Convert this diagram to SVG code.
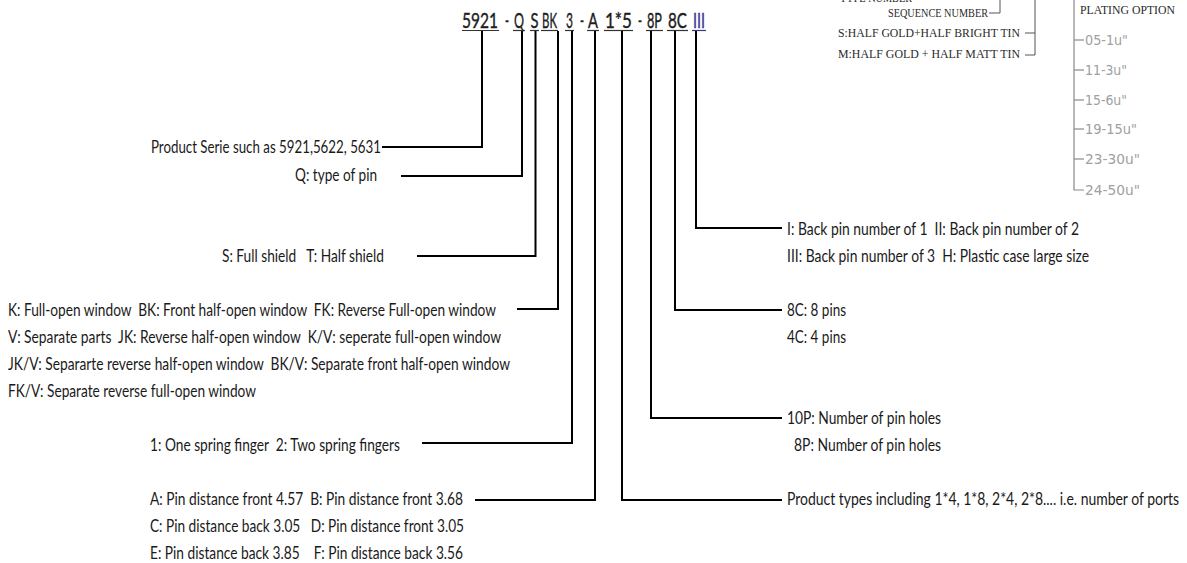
<svg xmlns="http://www.w3.org/2000/svg" width="1187" height="563" viewBox="0 0 1187 563">
<style>
.code{font-family:Lato,"Open Sans",sans-serif;font-size:16px;fill:#1e1e1e;stroke:#1e1e1e;stroke-width:0.3}
.lbl{font-family:Lato,"Open Sans",sans-serif;font-size:17px;fill:#1a1a1a}
.cad{font-family:"Liberation Serif","DejaVu Serif",serif;font-size:11.5px;fill:#2a2a2a}
.pl{font-family:"DejaVu Sans",sans-serif;font-size:13.5px;fill:#a0a0a0}
.ul{stroke:#333;stroke-width:1.2}
.con{fill:none;stroke:#000;stroke-width:2}
.cl{fill:none;stroke:#555;stroke-width:1}
.pll{fill:none;stroke:#8a8a8a;stroke-width:1.2}
</style>
<rect width="1187" height="563" fill="#fff"/>
<g id="code">
<g transform="translate(0,28) scale(1,1.35)">
<text class="code" x="462" y="0" textLength="36" lengthAdjust="spacingAndGlyphs">5921</text>
<text class="code" x="505" y="0" textLength="4" lengthAdjust="spacingAndGlyphs">-</text>
<text class="code" x="514" y="0" textLength="10" lengthAdjust="spacingAndGlyphs">Q</text>
<text class="code" x="530.5" y="0" textLength="8" lengthAdjust="spacingAndGlyphs">S</text>
<text class="code" x="542" y="0" textLength="15" lengthAdjust="spacingAndGlyphs">BK</text>
<text class="code" x="566" y="0" textLength="7" lengthAdjust="spacingAndGlyphs">3</text>
<text class="code" x="580" y="0" textLength="4" lengthAdjust="spacingAndGlyphs">-</text>
<text class="code" x="588" y="0" textLength="10" lengthAdjust="spacingAndGlyphs">A</text>
<text class="code" x="605" y="0" textLength="27" lengthAdjust="spacingAndGlyphs">1*5</text>
<text class="code" x="638" y="0" textLength="4" lengthAdjust="spacingAndGlyphs">-</text>
<text class="code" x="647" y="0" textLength="15" lengthAdjust="spacingAndGlyphs">8P</text>
<text class="code" x="668" y="0" textLength="19" lengthAdjust="spacingAndGlyphs">8C</text>
<text class="code" x="693" y="0" textLength="12" lengthAdjust="spacingAndGlyphs" style="fill:#35358a;stroke:#35358a">III</text>
</g>
<g class="ul">
<line x1="462" y1="30.5" x2="499" y2="30.5"/>
<line x1="513" y1="30.5" x2="525" y2="30.5"/>
<line x1="530" y1="30.5" x2="539" y2="30.5"/>
<line x1="541" y1="30.5" x2="558" y2="30.5"/>
<line x1="565" y1="30.5" x2="574" y2="30.5"/>
<line x1="587" y1="30.5" x2="599" y2="30.5"/>
<line x1="604" y1="30.5" x2="633" y2="30.5"/>
<line x1="646" y1="30.5" x2="663" y2="30.5"/>
<line x1="667" y1="30.5" x2="688" y2="30.5"/>
<line x1="692" y1="30.5" x2="706" y2="30.5" style="stroke:#35358a"/>
</g>
</g>
<g id="connectors">
<polyline class="con" points="482,31 482,147 382,147"/>
<polyline class="con" points="522,31 522,176 401,176"/>
<polyline class="con" points="535.5,31 535.5,256 417,256"/>
<polyline class="con" points="558,31 558,309 517,309"/>
<polyline class="con" points="572,31 572,443 422,443"/>
<polyline class="con" points="595,31 595,500 475,500"/>
<polyline class="con" points="622,31 622,500 782,500"/>
<polyline class="con" points="651,31 651,418 782,418"/>
<polyline class="con" points="675,31 675,310 782,310"/>
<polyline class="con" points="696,31 696,228 782,228"/>
</g>
<g id="labels-left">
<text class="lbl" x="151" y="153" textLength="230" lengthAdjust="spacingAndGlyphs">Product Serie such as 5921,5622, 5631</text>
<text class="lbl" x="295" y="181" textLength="82" lengthAdjust="spacingAndGlyphs">Q: type of pin</text>
<text class="lbl" x="222" y="262" textLength="162" lengthAdjust="spacingAndGlyphs" xml:space="preserve">S: Full shield   T: Half shield</text>
<text class="lbl" x="8" y="316" textLength="488" lengthAdjust="spacingAndGlyphs" xml:space="preserve">K: Full-open window  BK: Front half-open window  FK: Reverse Full-open window</text>
<text class="lbl" x="8" y="343" textLength="493" lengthAdjust="spacingAndGlyphs" xml:space="preserve">V: Separate parts  JK: Reverse half-open window  K/V: seperate full-open window</text>
<text class="lbl" x="8" y="370" textLength="502" lengthAdjust="spacingAndGlyphs" xml:space="preserve">JK/V: Separarte reverse half-open window  BK/V: Separate front half-open window</text>
<text class="lbl" x="8" y="397" textLength="248" lengthAdjust="spacingAndGlyphs">FK/V: Separate reverse full-open window</text>
<text class="lbl" x="150" y="451" textLength="250" lengthAdjust="spacingAndGlyphs" xml:space="preserve">1: One spring finger  2: Two spring fingers</text>
<text class="lbl" x="150" y="505" textLength="313" lengthAdjust="spacingAndGlyphs" xml:space="preserve">A: Pin distance front 4.57  B: Pin distance front 3.68</text>
<text class="lbl" x="150" y="532" textLength="314" lengthAdjust="spacingAndGlyphs" xml:space="preserve">C: Pin distance back 3.05   D: Pin distance front 3.05</text>
<text class="lbl" x="150" y="559" textLength="313" lengthAdjust="spacingAndGlyphs" xml:space="preserve">E: Pin distance back 3.85    F: Pin distance back 3.56</text>
</g>
<g id="labels-right">
<text class="lbl" x="787" y="235" textLength="292" lengthAdjust="spacingAndGlyphs" xml:space="preserve">I: Back pin number of 1  II: Back pin number of 2</text>
<text class="lbl" x="787" y="262" textLength="302" lengthAdjust="spacingAndGlyphs" xml:space="preserve">III: Back pin number of 3  H: Plastic case large size</text>
<text class="lbl" x="787" y="316" textLength="59" lengthAdjust="spacingAndGlyphs">8C: 8 pins</text>
<text class="lbl" x="787" y="343" textLength="59" lengthAdjust="spacingAndGlyphs">4C: 4 pins</text>
<text class="lbl" x="787" y="424" textLength="154" lengthAdjust="spacingAndGlyphs">10P: Number of pin holes</text>
<text class="lbl" x="794" y="451" textLength="147" lengthAdjust="spacingAndGlyphs">8P: Number of pin holes</text>
<text class="lbl" transform="translate(787,505) scale(1,1.25)" x="0" y="0" textLength="392" lengthAdjust="spacingAndGlyphs" style="font-size:13.5px">Product types including 1*4, 1*8, 2*4, 2*8.... i.e. number of ports</text>
</g>
<g id="option-table">
<text class="cad" x="840" y="2" textLength="72" lengthAdjust="spacingAndGlyphs">TYPE NUMBER</text>
<text class="cad" x="888" y="17" textLength="100" lengthAdjust="spacingAndGlyphs">SEQUENCE NUMBER</text>
<polyline class="cl" points="989,13 1000,13 1000,0"/>
<text class="cad" x="838" y="37" textLength="182" lengthAdjust="spacingAndGlyphs">S:HALF GOLD+HALF BRIGHT TIN</text>
<text class="cad" x="838" y="58" textLength="182" lengthAdjust="spacingAndGlyphs">M:HALF GOLD + HALF MATT TIN</text>
<line class="cl" x1="1025" y1="33" x2="1035" y2="33"/>
<polyline class="cl" points="1025,55 1035,55 1035,0"/>
<text class="cad" x="1080" y="14" textLength="95" lengthAdjust="spacingAndGlyphs">PLATING OPTION</text>
<polyline class="pll" points="1074,0 1074,190 1084,190"/>
<g class="pll">
<line x1="1074" y1="40" x2="1084" y2="40"/>
<line x1="1074" y1="70" x2="1084" y2="70"/>
<line x1="1074" y1="100" x2="1084" y2="100"/>
<line x1="1074" y1="129" x2="1084" y2="129"/>
<line x1="1074" y1="159" x2="1084" y2="159"/>
</g>
<text class="pl" x="1085" y="45" textLength="43" lengthAdjust="spacingAndGlyphs">05-1u"</text>
<text class="pl" x="1085" y="75" textLength="42" lengthAdjust="spacingAndGlyphs">11-3u"</text>
<text class="pl" x="1085" y="105" textLength="42" lengthAdjust="spacingAndGlyphs">15-6u"</text>
<text class="pl" x="1085" y="134" textLength="52" lengthAdjust="spacingAndGlyphs">19-15u"</text>
<text class="pl" x="1085" y="164" textLength="55" lengthAdjust="spacingAndGlyphs">23-30u"</text>
<text class="pl" x="1085" y="195" textLength="55" lengthAdjust="spacingAndGlyphs">24-50u"</text>
</g>
</svg>
